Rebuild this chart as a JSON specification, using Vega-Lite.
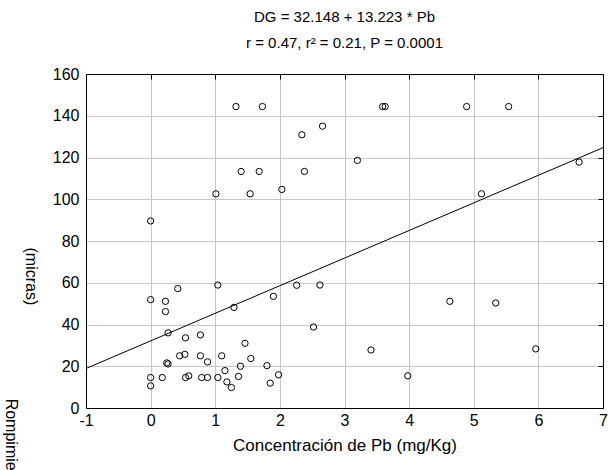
{
  "$schema": "https://vega.github.io/schema/vega-lite/v6.json",
  "autosize": "none",
  "width": 517,
  "height": 334,
  "padding": {"left": 86, "top": 74, "right": 6, "bottom": 62},
  "background": "white",
  "config": {
    "font": "Liberation Sans",
    "view": {"stroke": null},
    "axis": {"labelFont": "Liberation Sans", "titleFont": "Liberation Sans", "labelFontSize": 16, "titleFontSize": 17, "titleFontWeight": "normal", "labelColor": "black", "titleColor": "black", "domainColor": "black", "tickColor": "black", "gridColor": "#c8c8c8", "gridOpacity": 1}
  },
  "title": {
    "text": ["DG = 32.148 + 13.223 * Pb", "r = 0.47, r² = 0.21, P = 0.0001"],
    "font": "Liberation Sans",
    "fontSize": 15,
    "fontWeight": "normal",
    "color": "black",
    "lineHeight": 26,
    "anchor": "middle",
    "frame": "group",
    "offset": 15
  },
  "datasets": {
    "pts": [
      {"Pb": 0, "DG": 89.6}, {"Pb": 1.01, "DG": 102.6}, {"Pb": 1.32, "DG": 144.4}, {"Pb": 1.73, "DG": 144.4},
      {"Pb": 1.40, "DG": 113.3}, {"Pb": 1.68, "DG": 113.3}, {"Pb": 1.54, "DG": 102.6}, {"Pb": 2.03, "DG": 104.7},
      {"Pb": 2.34, "DG": 130.9}, {"Pb": 2.38, "DG": 113.3}, {"Pb": 2.66, "DG": 135.0}, {"Pb": 3.2, "DG": 118.6},
      {"Pb": 3.59, "DG": 144.4}, {"Pb": 3.63, "DG": 144.4}, {"Pb": 4.89, "DG": 144.4}, {"Pb": 5.54, "DG": 144.4},
      {"Pb": 5.12, "DG": 102.6}, {"Pb": 6.63, "DG": 117.8},
      {"Pb": 2.62, "DG": 58.9}, {"Pb": 2.52, "DG": 38.8}, {"Pb": 3.41, "DG": 27.8}, {"Pb": 3.98, "DG": 15.4},
      {"Pb": 4.63, "DG": 51.1}, {"Pb": 5.34, "DG": 50.3}, {"Pb": 5.96, "DG": 28.3},
      {"Pb": 0, "DG": 51.9}, {"Pb": 0.23, "DG": 51.1}, {"Pb": 0.23, "DG": 46.2}, {"Pb": 0.42, "DG": 57.2},
      {"Pb": 0.27, "DG": 36.0}, {"Pb": 0, "DG": 14.6}, {"Pb": 0, "DG": 10.6}, {"Pb": 0.18, "DG": 14.6},
      {"Pb": 0.25, "DG": 21.6}, {"Pb": 0.27, "DG": 21.1}, {"Pb": 0.54, "DG": 33.6}, {"Pb": 0.45, "DG": 25.0},
      {"Pb": 0.53, "DG": 25.7}, {"Pb": 0.54, "DG": 14.6}, {"Pb": 0.59, "DG": 15.4}, {"Pb": 0.77, "DG": 35.0},
      {"Pb": 0.77, "DG": 25.0}, {"Pb": 0.88, "DG": 22.1}, {"Pb": 0.79, "DG": 14.6}, {"Pb": 0.88, "DG": 14.6},
      {"Pb": 1.04, "DG": 58.9}, {"Pb": 1.04, "DG": 14.6}, {"Pb": 1.10, "DG": 25.0}, {"Pb": 1.15, "DG": 17.9},
      {"Pb": 1.18, "DG": 12.5}, {"Pb": 1.25, "DG": 9.8}, {"Pb": 1.29, "DG": 48.2}, {"Pb": 1.36, "DG": 15.1},
      {"Pb": 1.39, "DG": 20.0}, {"Pb": 1.46, "DG": 31.0}, {"Pb": 1.55, "DG": 23.7}, {"Pb": 1.80, "DG": 20.3},
      {"Pb": 1.85, "DG": 11.9}, {"Pb": 1.90, "DG": 53.5}, {"Pb": 1.98, "DG": 15.9}, {"Pb": 2.26, "DG": 58.8}
    ],
    "fit": [{"Pb": -1, "DG": 18.925}, {"Pb": 7, "DG": 124.709}]
  },
  "layer": [
    {
      "data": {"name": "pts"},
      "mark": {"type": "point", "filled": false, "color": "black", "size": 40, "strokeWidth": 1, "opacity": 1},
      "encoding": {
        "x": {"field": "Pb", "type": "quantitative", "scale": {"domain": [-1, 7], "nice": false, "zero": false},
          "axis": {"orient": "bottom", "values": [-1, 0, 1, 2, 3, 4, 5, 6, 7], "labelExpr": "'' + datum.value", "title": "Concentración de Pb (mg/Kg)", "ticks": false, "labelPadding": 4, "titlePadding": 9, "labelFlush": false}},
        "y": {"field": "DG", "type": "quantitative", "scale": {"domain": [0, 160], "nice": false},
          "axis": {"orient": "left", "values": [0, 20, 40, 60, 80, 100, 120, 140, 160], "ticks": false, "labelPadding": 7, "labelFlush": false,
            "title": ["(micras)", "\u200b\u00a0\u00a0\u00a0\u00a0\u00a0\u00a0\u00a0\u00a0\u00a0\u00a0\u00a0\u00a0\u00a0\u00a0\u00a0\u00a0\u00a0\u00a0\u00a0\u00a0\u00a0\u00a0\u00a0\u00a0\u00a0\u00a0\u00a0\u00a0\u00a0\u00a0\u00a0\u00a0\u00a0\u00a0Rompimiento del ADN"],
            "titleFontSize": 16, "titleAngle": 90, "titleAlign": "left", "titleBaseline": "middle", "titleX": -56, "titleY": 173, "titleLineHeight": 20, "titleLimit": 2000}}
      }
    },
    {
      "data": {"name": "fit"},
      "mark": {"type": "line", "color": "black", "strokeWidth": 1},
      "encoding": {
        "x": {"field": "Pb", "type": "quantitative", "axis": {"orient": "top", "values": [-1, 0, 1, 2, 3, 4, 5, 6, 7], "labels": false, "title": null, "grid": false, "tickSize": -5}},
        "y": {"field": "DG", "type": "quantitative", "axis": {"orient": "right", "values": [0, 20, 40, 60, 80, 100, 120, 140, 160], "labels": false, "title": null, "grid": false, "tickSize": -5}}
      }
    }
  ],
  "resolve": {"axis": {"x": "independent", "y": "independent"}}
}
